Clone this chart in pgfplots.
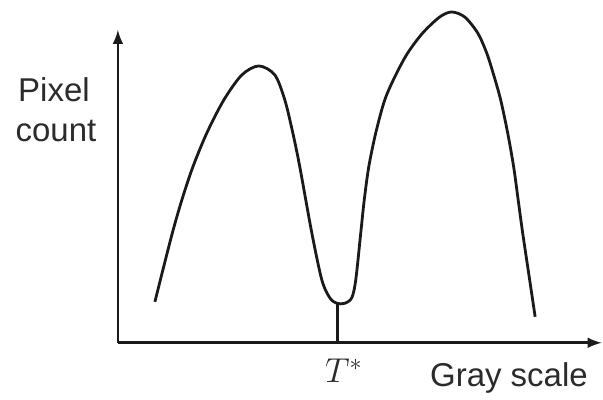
\documentclass[border=0pt]{standalone}
\usepackage{fontspec}
\setmainfont{Liberation Sans}
\usepackage{pgfplots}
\pgfplotsset{compat=1.18}
\definecolor{curveInk}{HTML}{1A1A1A}
\definecolor{labelInk}{HTML}{2B2B2B}

% one axis unit = one pixel of the 603x400 reference (y counted up from the x axis)
\pgfplotstableread{
x     h
155   41
160.5 63
172.5 110
182   143
193   176
207   210
224   243
242   268
259   277
275   268
285   243
293   210
300   176
312   110
322   63
330   45
337   39.5
345   39.5
352   45
356   63
361   110
364.5 143
369   176
376   210
385   243
396   268
408   290
423   310
440   326
452   331
465   326
478   310
487   290
494   268
501   243
508   210
514   176
518.5 143
523   110
530   63
535.5 26
}\histdata

\begin{document}
\begin{tikzpicture}
\begin{axis}[
  x=0.5pt, y=0.5pt,
  xmin=118, xmax=602, ymin=0, ymax=313,
  axis lines=left,
  axis line style={line width=1.4pt, color=curveInk, -latex},
  ticks=none,
  clip=false,
]
\addplot[line width=1.4pt, color=curveInk, smooth, tension=0.5] table[x=x, y=h] {\histdata};
\addplot[line width=1.3pt, color=curveInk] coordinates {(338,0) (338,39)};
\path (axis cs:0,343) rectangle (axis cs:603,-57);
\node[anchor=base, inner sep=0, text=labelInk, font=\fontsize{16.5}{20}\selectfont] at (axis cs:54,241) {Pixel};
\node[anchor=base, inner sep=0, text=labelInk, font=\fontsize{16.5}{20}\selectfont] at (axis cs:56,201) {count};
\node[anchor=base west, inner sep=0, text=labelInk, font=\fontsize{16.5}{20}\selectfont] at (axis cs:430,-44) {Gray scale};
\node[anchor=base west, inner sep=0, text=labelInk, font=\fontsize{16.5}{20}\selectfont] at (axis cs:325,-40) {$T^{*}$};
\end{axis}
\end{tikzpicture}
\end{document}
